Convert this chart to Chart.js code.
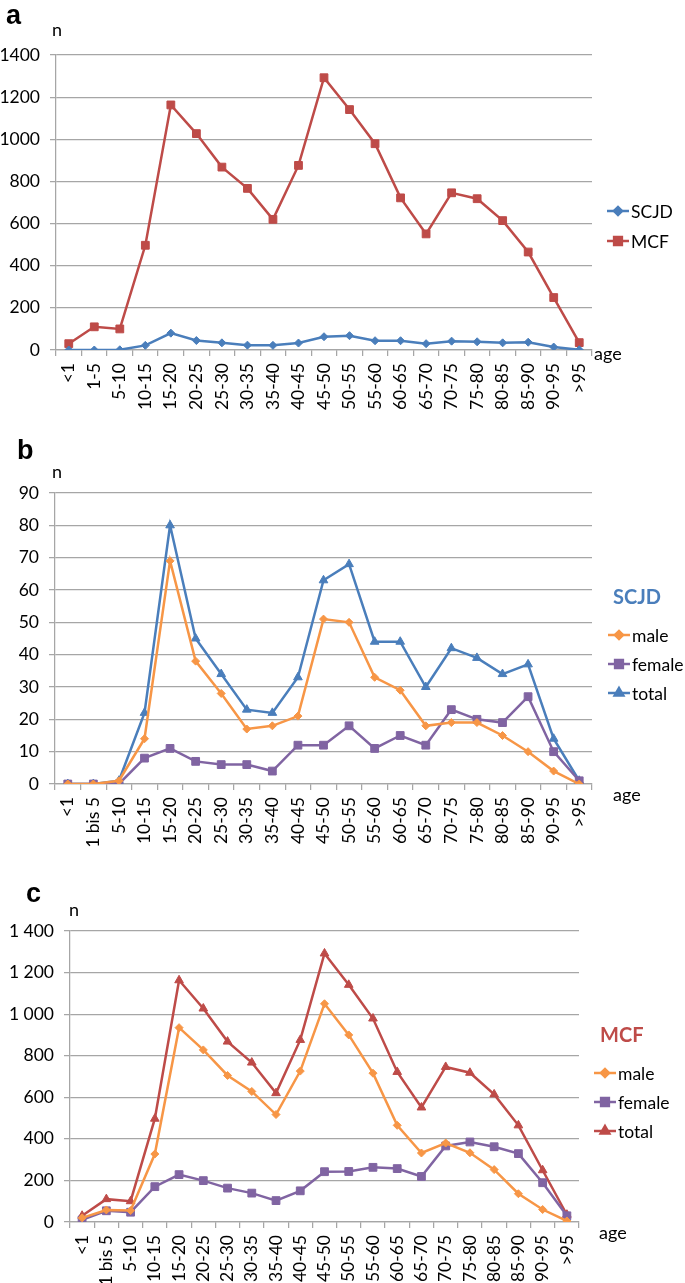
<!DOCTYPE html>
<html>
<head>
<meta charset="utf-8">
<script src="https://cdn.jsdelivr.net/npm/chart.js@4.4.1/dist/chart.umd.min.js"></script>
<style>
  body { margin: 0; background: #fff; width: 685px; height: 1283px; position: relative; overflow: hidden; }
  canvas { position: absolute; left: 0; }
</style>
</head>
<body>
<canvas id="chartA" width="685" height="420" style="top:0px"></canvas>
<canvas id="chartB" width="685" height="440" style="top:420px"></canvas>
<canvas id="chartC" width="685" height="443" style="top:840px"></canvas>
<script>
// data
const agesA = ["<1", "1-5", "5-10", "10-15", "15-20", "20-25", "25-30", "30-35", "35-40", "40-45", "45-50",
  "50-55", "55-60", "60-65", "65-70", "70-75", "75-80", "80-85", "85-90", "90-95", ">95"];
const agesBC = ["<1", "1 bis 5", "5-10", "10-15", "15-20", "20-25", "25-30", "30-35", "35-40", "40-45", "45-50",
  "50-55", "55-60", "60-65", "65-70", "70-75", "75-80", "80-85", "85-90", "90-95", ">95"];

const scjdMale = [0, 0, 1, 14, 69, 38, 28, 17, 18, 21, 51, 50, 33, 29, 18, 19, 19, 15, 10, 4, 0];
const scjdFemale = [0, 0, 0, 8, 11, 7, 6, 6, 4, 12, 12, 18, 11, 15, 12, 23, 20, 19, 27, 10, 1];
const scjdTotal = [0, 0, 1, 22, 80, 45, 34, 23, 22, 33, 63, 68, 44, 44, 30, 42, 39, 34, 37, 14, 1];

const mcfMale = [20, 58, 55, 327, 935, 828, 705, 628, 517, 726, 1050, 900, 716, 465, 332, 380, 333, 252, 136, 60, 5];
const mcfFemale = [10, 54, 47, 170, 228, 199, 163, 139, 103, 150, 242, 243, 263, 257, 219, 366, 385, 362, 329, 189, 30];
const mcfTotal = [30, 110, 100, 497, 1163, 1027, 868, 767, 620, 876, 1292, 1141, 979, 722, 551, 746, 718, 614, 465, 249, 35];

const yTicksA = [0, 1400, 200];
const yTicksB = [0, 90, 10];
const yTicksC = [0, 1400, 200];

// colours
const blue = "#4a7ebb";
const red = "#be4b48";
const orange = "#f79646";
const purple = "#8064a2";
const gridGrey = "#a6a6a6";
const FONT = "Lato, 'Open Sans', sans-serif";

function series(label, data, color, style, radius) {
  return {
    label: label,
    data: data,
    borderColor: color,
    backgroundColor: color,
    borderWidth: 2.5,
    pointStyle: style,
    pointRadius: radius,
    pointHoverRadius: radius,
    pointBorderWidth: 1,
    pointBorderColor: color,
    pointBackgroundColor: color,
    tension: 0,
    fill: false
  };
}

// letters, axis names and the hand-placed legend of each panel
function panelText(p) {
  return {
    id: "panelText",
    afterDraw(chart) {
      const ctx = chart.ctx;
      ctx.save();
      ctx.textBaseline = "middle";
      ctx.textAlign = "left";
      ctx.fillStyle = "#000";
      ctx.font = "bold 27px 'Liberation Sans', Arial, sans-serif";
      ctx.fillText(p.letter, p.letterX, p.letterY);
      ctx.font = "18px " + FONT;
      ctx.fillText("n", p.nX, p.nY);
      ctx.fillText("age", p.ageX, p.ageY);
      if (p.title) {
        ctx.font = "bold 20px " + FONT;
        ctx.fillStyle = p.titleColor;
        ctx.fillText(p.title, p.titleX, p.titleY);
      }
      ctx.font = "17.5px " + FONT;
      chart.data.datasets.forEach((ds, i) => {
        const y = p.legY + i * p.legStep;
        const x0 = p.legX;
        ctx.strokeStyle = ds.borderColor;
        ctx.lineWidth = 2.5;
        ctx.beginPath();
        ctx.moveTo(x0, y);
        ctx.lineTo(x0 + 22, y);
        ctx.stroke();
        ctx.fillStyle = ds.borderColor;
        Chart.helpers.drawPoint(ctx, { pointStyle: ds.pointStyle, radius: ds.pointRadius, borderWidth: 1 }, x0 + 11, y);
        ctx.fillStyle = "#000";
        ctx.fillText(ds.label, x0 + 24, y + 1);
      });
      ctx.restore();
    }
  };
}

function makeChart(id, labels, datasets, yTicks, yFormat, box, text) {
  return new Chart(document.getElementById(id), {
    type: "line",
    data: { labels: labels, datasets: datasets },
    options: {
      responsive: false,
      animation: false,
      events: [],
      layout: { padding: { top: box.top, right: box.right, left: 0, bottom: 0 } },
      plugins: { legend: { display: false }, tooltip: { enabled: false } },
      scales: {
        x: {
          offset: true,
          grid: { offset: true, drawOnChartArea: false, drawTicks: true, tickLength: 6, color: gridGrey, lineWidth: 1.25 },
          border: { color: gridGrey, width: 1.25 },
          ticks: { autoSkip: false, minRotation: 90, maxRotation: 90, padding: 7, color: "#000", font: { family: FONT, size: 17.5 } },
          afterFit(scale) { scale.height = box.xHeight; }
        },
        y: {
          min: yTicks[0],
          max: yTicks[1],
          grid: { color: gridGrey, lineWidth: 1.25, tickLength: 6 },
          border: { color: gridGrey, width: 1.25 },
          ticks: { stepSize: yTicks[2], padding: 10, color: "#000", font: { family: FONT, size: 17.5 }, callback: yFormat },
          afterFit(scale) { scale.width = box.yWidth; }
        }
      }
    },
    plugins: [panelText(text)]
  });
}

const plain = v => String(v);
const spaced = v => String(v).replace(/\B(?=(\d{3})+(?!\d))/g, " ");

makeChart("chartA", agesA, [
  series("SCJD", scjdTotal, blue, "rectRot", 4),
  series("MCF", mcfTotal, red, "rect", 5.5)
], yTicksA, plain,
  { top: 55, right: 93, yWidth: 56, xHeight: 70 },
  { letter: "a", letterX: 6, letterY: 17, nX: 52, nY: 30, ageX: 594, ageY: 354,
    legX: 607, legY: 211, legStep: 30 });

makeChart("chartB", agesBC, [
  series("male", scjdMale, orange, "rectRot", 4),
  series("female", scjdFemale, purple, "rect", 5.5),
  series("total", scjdTotal, blue, "triangle", 5)
], yTicksB, plain,
  { top: 73, right: 93, yWidth: 55, xHeight: 76 },
  { letter: "b", letterX: 17, letterY: 32, nX: 52, nY: 52, ageX: 613, ageY: 375,
    title: "SCJD", titleColor: blue, titleX: 613, titleY: 178,
    legX: 608, legY: 215, legStep: 29 });

makeChart("chartC", agesBC, [
  series("male", mcfMale, orange, "rectRot", 4),
  series("female", mcfFemale, purple, "rect", 5.5),
  series("total", mcfTotal, red, "triangle", 5)
], yTicksC, spaced,
  { top: 91, right: 106, yWidth: 70, xHeight: 61 },
  { letter: "c", letterX: 26, letterY: 55, nX: 69, nY: 70, ageX: 599, ageY: 393,
    title: "MCF", titleColor: red, titleX: 600, titleY: 196,
    legX: 594, legY: 233, legStep: 29 });
</script>
</body>
</html>
